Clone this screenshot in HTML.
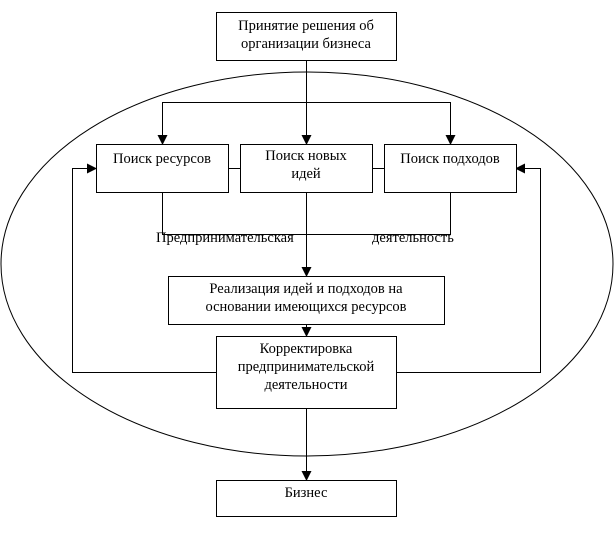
<!DOCTYPE html>
<html><head><meta charset="utf-8"><style>
html,body{margin:0;padding:0;background:#fff;}
svg text{font-family:"Liberation Serif",serif;font-size:14.5px;fill:#000;}
</style></head><body>
<svg width="615" height="528" viewBox="0 0 615 528" xmlns="http://www.w3.org/2000/svg">
<defs><marker id="a" markerWidth="10" markerHeight="10" refX="9" refY="5" orient="auto" markerUnits="userSpaceOnUse"><path d="M0,0 L10,5 L0,10 z" fill="#000"/></marker></defs>
<ellipse cx="307" cy="264" rx="306" ry="192" fill="none" stroke="#000" stroke-width="1"/>
<g stroke="#000" stroke-width="1" fill="none">
<line x1="306.5" y1="60" x2="306.5" y2="144" marker-end="url(#a)"/>
<line x1="162.5" y1="102.5" x2="450.5" y2="102.5"/>
<line x1="162.5" y1="102" x2="162.5" y2="144" marker-end="url(#a)"/>
<line x1="450.5" y1="102" x2="450.5" y2="144" marker-end="url(#a)"/>
<line x1="228" y1="168.5" x2="240" y2="168.5"/>
<line x1="372" y1="168.5" x2="384" y2="168.5"/>
<polyline points="162.5,192 162.5,234.5 450.5,234.5 450.5,192"/>
<line x1="306.5" y1="192" x2="306.5" y2="276" marker-end="url(#a)"/>
<line x1="306.5" y1="324" x2="306.5" y2="336" marker-end="url(#a)"/>
<line x1="306.5" y1="408" x2="306.5" y2="480" marker-end="url(#a)"/>
<polyline points="216,372.5 72.5,372.5 72.5,168.5 96,168.5" marker-end="url(#a)"/>
<polyline points="396,372.5 540.5,372.5 540.5,168.5 516,168.5" marker-end="url(#a)"/>
</g>
<g fill="#fff" stroke="#000" stroke-width="1">
<rect x="216.5" y="12.5" width="180" height="48"/>
<rect x="96.5" y="144.5" width="132" height="48"/>
<rect x="240.5" y="144.5" width="132" height="48"/>
<rect x="384.5" y="144.5" width="132" height="48"/>
<rect x="168.5" y="276.5" width="276" height="48"/>
<rect x="216.5" y="336.5" width="180" height="72"/>
<rect x="216.5" y="480.5" width="180" height="36"/>
</g>
<g text-anchor="middle">
<text x="306" y="30">Принятие решения об</text>
<text x="306" y="48">организации бизнеса</text>
<text x="162" y="163">Поиск ресурсов</text>
<text x="306" y="160">Поиск новых</text>
<text x="306" y="178">идей</text>
<text x="450" y="163">Поиск подходов</text>
<text x="306" y="293">Реализация идей и подходов на</text>
<text x="306" y="311">основании имеющихся ресурсов</text>
<text x="306" y="353">Корректировка</text>
<text x="306" y="371">предпринимательской</text>
<text x="306" y="389">деятельности</text>
<text x="306" y="497">Бизнес</text>
</g>
<text x="156" y="242">Предпринимательская</text>
<text x="372" y="242">деятельность</text>
</svg>
</body></html>
